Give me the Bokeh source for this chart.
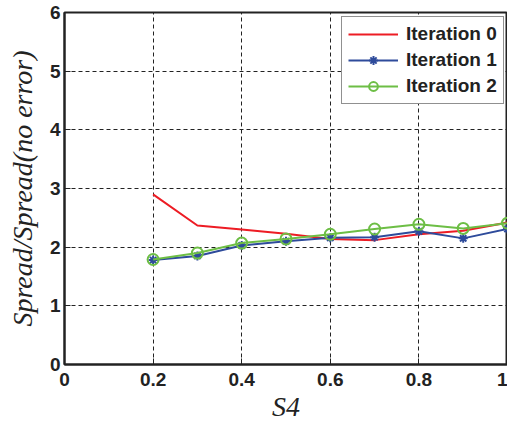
from bokeh.plotting import figure
from bokeh.models import Range1d, FixedTicker, Legend, LegendItem
from bokeh.embed import file_html
from bokeh.resources import INLINE

s4 = [0.2, 0.3, 0.4, 0.5, 0.6, 0.7, 0.8, 0.9, 1.0]
iter0 = [2.90, 2.37, 2.30, 2.23, 2.14, 2.12, 2.22, 2.28, 2.42]
iter1 = [1.78, 1.85, 2.03, 2.10, 2.16, 2.17, 2.27, 2.15, 2.31]
iter2 = [1.79, 1.90, 2.07, 2.14, 2.22, 2.31, 2.39, 2.32, 2.41]
x_ticks = [0, 0.2, 0.4, 0.6, 0.8, 1.0]
y_ticks = [0, 1, 2, 3, 4, 5, 6]
names = ["Iteration 0", "Iteration 1", "Iteration 2"]

RED = "#ED1C24"
BLUE = "#2E4B9B"
GREEN = "#6DBE45"

p = figure(width=507, height=425, output_backend="svg", toolbar_location=None,
           x_range=Range1d(0, 1), y_range=Range1d(0, 6),
           min_border_left=64, min_border_top=12, min_border_bottom=61,
           min_border_right=0)
p.background_fill_color = "white"
p.border_fill_color = "white"
p.outline_line_color = "#222222"
p.outline_line_width = 2

for ax in (p.xaxis[0], p.yaxis[0]):
    ax.axis_line_width = 2
    ax.axis_line_color = "#222222"
    ax.major_tick_in = 6
    ax.major_tick_out = 0
    ax.minor_tick_in = 0
    ax.minor_tick_out = 0
    ax.major_tick_line_color = "#222222"
    ax.major_label_text_font = "Liberation Sans"
    ax.major_label_text_font_style = "bold"
    ax.major_label_text_font_size = "19px"
    ax.major_label_text_color = "#222222"
    ax.axis_label_text_font = "Liberation Serif"
    ax.axis_label_text_font_style = "italic"
    ax.axis_label_text_font_size = "28px"
    ax.axis_label_text_color = "#222222"

p.xaxis.ticker = FixedTicker(ticks=x_ticks)
p.yaxis.ticker = FixedTicker(ticks=y_ticks)
p.xaxis.major_label_overrides = {0: "0", 0.2: "0.2", 0.4: "0.4", 0.6: "0.6", 0.8: "0.8", 1.0: "1"}
p.xaxis.axis_label = "S4"
p.yaxis.axis_label = "Spread/Spread(no error)"
p.xaxis.major_label_standoff = 8
p.xaxis.axis_label_standoff = 2
p.yaxis.major_label_standoff = 4
p.yaxis.axis_label_standoff = 9

for g in (p.xgrid[0], p.ygrid[0]):
    g.grid_line_color = "#222222"
    g.grid_line_dash = "4 3"
    g.grid_line_width = 1
p.xgrid.ticker = FixedTicker(ticks=x_ticks)
p.ygrid.ticker = FixedTicker(ticks=y_ticks)

r0 = p.line(s4, iter0, line_color=RED, line_width=2)
r1 = p.line(s4, iter1, line_color=BLUE, line_width=2)
m1 = p.scatter(s4, iter1, marker="asterisk", size=9, line_color=BLUE, line_width=2)
r2 = p.line(s4, iter2, line_color=GREEN, line_width=2)
m2 = p.scatter(s4, iter2, marker="circle", size=11, line_color=GREEN, fill_color=None, line_width=2)

legend = Legend(items=[LegendItem(label=names[0], renderers=[r0]),
                       LegendItem(label=names[1], renderers=[r1, m1]),
                       LegendItem(label=names[2], renderers=[r2, m2])],
                location=(277, 260))
legend.label_text_font = "Liberation Sans"
legend.label_text_font_style = "bold"
legend.label_text_font_size = "19px"
legend.label_text_color = "#222222"
legend.glyph_width = 50
legend.glyph_height = 22
legend.label_height = 22
legend.label_standoff = 8
legend.spacing = 4
legend.padding = 6
legend.margin = 0
legend.border_line_color = "#222222"
legend.border_line_width = 1
legend.background_fill_alpha = 1
p.add_layout(legend)

open("out.html", "w").write(file_html(p, INLINE))
